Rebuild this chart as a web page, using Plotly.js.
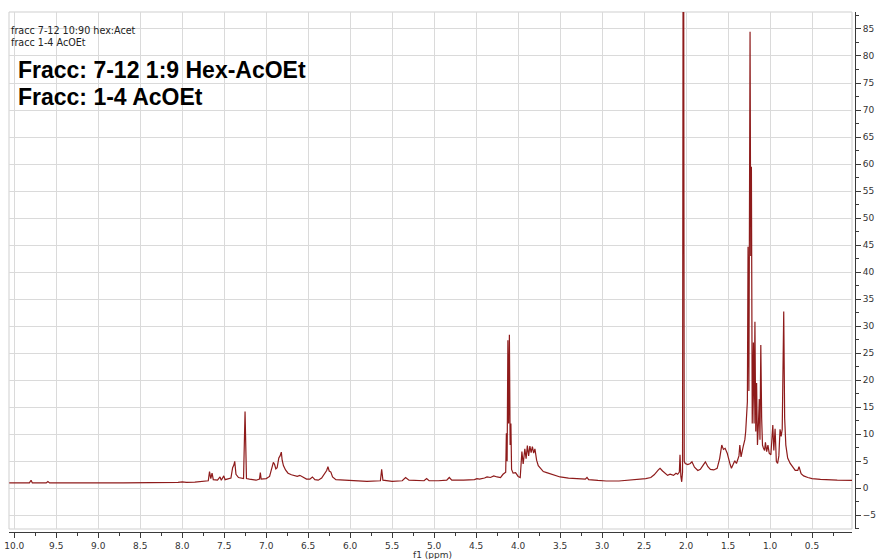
<!DOCTYPE html>
<html>
<head>
<meta charset="utf-8">
<script src="https://cdn.plot.ly/plotly-3.0.1.min.js"></script>
<style>
  html, body { margin: 0; padding: 0; background: #fff; }
  #nmr { width: 881px; height: 559px; }
</style>
</head>
<body>
<div id="nmr"></div>
<script>
// 1H NMR trace, chemical shift (ppm) against intensity, read region by region.
// Aromatic / olefinic region, 10.06 - 5.06 ppm
const shiftLow = [10.06, 9.82, 9.80, 9.785, 9.62, 9.60, 9.58, 9.3, 9.0, 8.7, 8.5, 8.2, 8.05, 8.0, 7.95, 7.85, 7.75, 7.69, 7.675, 7.66, 7.645, 7.63, 7.58, 7.55, 7.535, 7.505, 7.49, 7.42, 7.40, 7.385, 7.375, 7.36, 7.33, 7.27, 7.252, 7.235, 7.20, 7.12, 7.08, 7.07, 7.06, 7.0, 6.96, 6.93, 6.915, 6.90, 6.885, 6.87, 6.85, 6.835, 6.82, 6.81, 6.795, 6.77, 6.74, 6.70, 6.66, 6.63, 6.60, 6.56, 6.52, 6.48, 6.45, 6.42, 6.38, 6.34, 6.32, 6.30, 6.28, 6.265, 6.25, 6.23, 6.21, 6.17, 6.0, 5.8, 5.64, 5.625, 5.61, 5.5, 5.38, 5.34, 5.30, 5.2, 5.12, 5.09, 5.06];
const intensityLow = [1.0, 1.0, 1.5, 1.0, 1.0, 1.25, 1.0, 0.95, 1.0, 1.0, 1.0, 1.05, 1.1, 1.2, 1.1, 1.15, 1.3, 1.4, 3.1, 1.8, 2.8, 1.6, 1.5, 2.1, 1.5, 2.3, 1.6, 1.9, 3.8, 4.3, 5.0, 2.6, 2.0, 1.8, 14.2, 1.8, 1.7, 1.5, 1.7, 2.9, 1.7, 1.8, 2.2, 3.8, 4.8, 4.4, 3.6, 3.8, 5.6, 6.0, 6.7, 5.2, 4.2, 3.4, 2.8, 2.5, 2.3, 2.2, 2.4, 2.1, 1.7, 1.7, 2.1, 1.6, 1.5, 1.9, 2.4, 2.9, 3.3, 4.0, 3.2, 3.0, 2.1, 1.6, 1.4, 1.3, 1.4, 3.5, 1.5, 1.3, 1.4, 2.0, 1.5, 1.4, 1.4, 1.8, 1.4];

// Mid-field region (OCH2 quartet and multiplets), 4.95 - 2.55 ppm
const shiftMid = [4.95, 4.85, 4.82, 4.79, 4.65, 4.52, 4.49, 4.46, 4.40, 4.37, 4.33, 4.29, 4.25, 4.21, 4.18, 4.160, 4.148, 4.140, 4.131, 4.122, 4.113, 4.104, 4.095, 4.086, 4.078, 4.06, 4.03, 4.00, 3.975, 3.955, 3.94, 3.92, 3.905, 3.89, 3.875, 3.86, 3.845, 3.83, 3.815, 3.80, 3.78, 3.76, 3.74, 3.70, 3.66, 3.62, 3.56, 3.50, 3.40, 3.30, 3.20, 3.18, 3.16, 3.05, 2.95, 2.80, 2.65, 2.55];
const intensityMid = [1.4, 1.5, 2.0, 1.5, 1.5, 1.6, 1.8, 1.7, 1.9, 2.1, 2.0, 2.3, 2.1, 2.0, 2.6, 2.9, 3.0, 10.2, 5.0, 27.4, 12.0, 28.4, 8.0, 12.0, 3.5, 2.8, 2.9, 2.2, 2.0, 6.8, 4.5, 7.3, 5.5, 7.9, 6.0, 7.8, 6.6, 7.7, 6.5, 7.3, 5.2, 4.2, 3.8, 3.1, 2.9, 2.7, 2.4, 2.1, 1.9, 1.8, 1.7, 2.0, 1.6, 1.45, 1.35, 1.35, 1.5, 1.6];

// Aliphatic region (acetate singlet, CH2/CH3 envelope), 2.48 - 0.02 ppm
const shiftHigh = [2.48, 2.42, 2.38, 2.33, 2.31, 2.28, 2.25, 2.22, 2.19, 2.15, 2.12, 2.10, 2.08, 2.072, 2.062, 2.052, 2.042, 2.032, 2.022, 2.01, 1.98, 1.95, 1.93, 1.90, 1.86, 1.83, 1.80, 1.77, 1.74, 1.71, 1.67, 1.63, 1.60, 1.575, 1.555, 1.535, 1.51, 1.49, 1.475, 1.46, 1.44, 1.42, 1.40, 1.37, 1.36, 1.345, 1.32, 1.30, 1.29, 1.28, 1.27, 1.262, 1.252, 1.238, 1.230, 1.222, 1.212, 1.198, 1.190, 1.180, 1.170, 1.160, 1.150, 1.138, 1.128, 1.120, 1.110, 1.100, 1.090, 1.08, 1.065, 1.055, 1.04, 1.025, 1.01, 0.99, 0.967, 0.955, 0.94, 0.925, 0.91, 0.895, 0.881, 0.868, 0.855, 0.837, 0.826, 0.812, 0.79, 0.76, 0.73, 0.70, 0.67, 0.655, 0.63, 0.60, 0.55, 0.50, 0.40, 0.30, 0.20, 0.02];
const intensityHigh = [1.8, 2.0, 2.5, 3.4, 3.7, 3.2, 2.7, 2.4, 2.6, 2.4, 2.8, 2.6, 3.0, 6.2, 2.2, 1.2, 3.0, 150, 5.0, 4.6, 4.4, 4.6, 4.9, 3.9, 3.3, 3.5, 4.2, 4.9, 4.0, 3.5, 3.4, 3.7, 5.5, 8.0, 7.2, 7.4, 6.5, 5.0, 4.4, 3.7, 4.6, 5.1, 4.6, 6.0, 8.0, 5.8, 7.7, 9.0, 10.5, 14.5, 16.0, 44.7, 18.0, 84.5, 43.0, 59.5, 12.0, 27.0, 12.0, 30.8, 10.5, 19.5, 8.0, 12.0, 16.5, 9.0, 26.5, 13.0, 8.0, 7.5, 7.0, 8.5, 6.8, 8.0, 6.5, 6.2, 11.7, 7.0, 11.0, 5.0, 4.6, 6.0, 10.9, 9.6, 10.9, 32.7, 13.0, 8.0, 5.6, 4.6, 4.0, 3.3, 3.3, 4.0, 2.7, 2.3, 2.0, 1.8, 1.65, 1.55, 1.5, 1.45];

// Captions and axis label
const sampleNotes = ['fracc 7-12 10:90 hex:Acet', 'fracc 1-4 AcOEt'];
const headlines = ['Fracc: 7-12 1:9 Hex-AcOEt', 'Fracc: 1-4 AcOEt'];
const xAxisLabel = 'f1 (ppm)';

const shift = shiftLow.concat(shiftMid, shiftHigh);
const intensity = intensityLow.concat(intensityMid, intensityHigh);

// Plot-area geometry in pixels (frame 9..852 x 12..529, axes offset by 3 px)
const W = 881, H = 559;
const L = 9, R = 26, T = 12, B = 27;
const plotW = W - L - R, plotH = H - T - B;
const px = x => (x - L) / plotW;
const py = y => (H - B - y) / plotH;
const xDomEnd = px(852);
const yDomStart = py(529);

const axisColor = '#3a3a3a';
const gridColor = '#dadada';
const tickFont = { family: 'DejaVu Sans, Verdana, sans-serif', size: 9, color: '#333' };

const trace = {
  x: shift,
  y: intensity,
  type: 'scatter',
  mode: 'lines',
  line: { color: '#8e1b1b', width: 1.2 },
  hoverinfo: 'skip'
};

const annotations = [];
sampleNotes.forEach((t, i) => {
  annotations.push({
    text: t, xref: 'paper', yref: 'paper',
    x: px(8.5), y: py(31 + i * 11), xanchor: 'left', yanchor: 'middle',
    showarrow: false,
    font: { family: 'DejaVu Sans, Verdana, sans-serif', size: 9.6, color: '#222' }
  });
});
headlines.forEach((t, i) => {
  annotations.push({
    text: '<b>' + t + '</b>', xref: 'paper', yref: 'paper',
    x: px(16), y: py(70 + i * 27.5), xanchor: 'left', yanchor: 'middle',
    showarrow: false,
    font: { family: 'Liberation Sans, Arial, sans-serif', size: 23, color: '#000' }
  });
});
// axis label sits just under the tick labels, at the bottom edge of the page
annotations.push({
  text: xAxisLabel, xref: 'paper', yref: 'paper',
  x: px(433), y: py(549), xanchor: 'center', yanchor: 'top',
  showarrow: false, borderpad: 0,
  font: tickFont
});

const layout = {
  width: W, height: H,
  margin: { l: L, r: R, t: T, b: B, pad: 0 },
  paper_bgcolor: '#fff',
  plot_bgcolor: '#fff',
  showlegend: false,
  xaxis: {
    domain: [0, xDomEnd],
    range: [10.063, 0.024],
    anchor: 'free', position: 0,
    showline: true, linecolor: axisColor, linewidth: 1,
    ticks: 'outside', ticklen: 5, tickcolor: axisColor,
    tick0: 0, dtick: 0.5, tickformat: '.1f',
    showgrid: true, gridcolor: gridColor, gridwidth: 1,
    zeroline: false,
    minor: { dtick: 0.25, tick0: 0, ticks: 'outside', ticklen: 3, tickcolor: axisColor, showgrid: false },
    tickfont: tickFont
  },
  yaxis: {
    domain: [yDomStart, 1],
    range: [-7.53, 88.14],
    side: 'right', anchor: 'free', position: 1,
    showline: true, linecolor: axisColor, linewidth: 1,
    ticks: 'outside', ticklen: 5, tickcolor: axisColor,
    tick0: 0, dtick: 5,
    showgrid: true, gridcolor: gridColor, gridwidth: 1,
    zeroline: false,
    minor: { dtick: 2.5, tick0: 0, ticks: 'outside', ticklen: 3, tickcolor: axisColor, showgrid: false },
    tickfont: tickFont
  },
  shapes: [{
    type: 'rect', xref: 'paper', yref: 'paper',
    x0: 0, x1: xDomEnd, y0: yDomStart, y1: 1,
    line: { color: '#cfcfcf', width: 1 }, layer: 'below'
  }],
  annotations: annotations
};

Plotly.newPlot('nmr', [trace], layout, { displayModeBar: false, staticPlot: true });
</script>
</body>
</html>
